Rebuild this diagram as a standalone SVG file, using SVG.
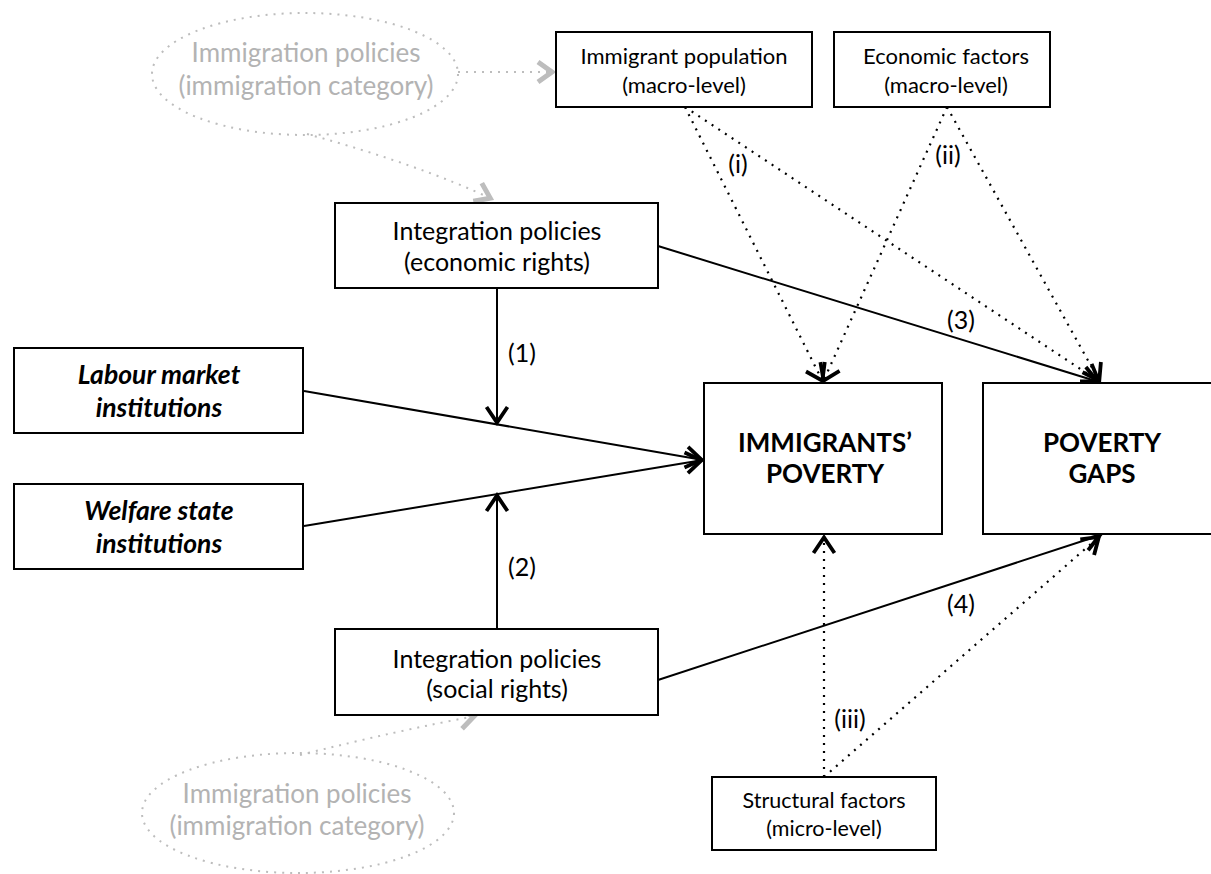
<svg xmlns="http://www.w3.org/2000/svg" width="1211" height="874" viewBox="0 0 1211 874">
<defs>
<style>
.box{fill:#fff;stroke:#000;stroke-width:2}
.t{font-family:Lato,"Liberation Sans",sans-serif;fill:#000;text-anchor:middle}
.big{font-size:25px}
.mid{font-size:22px}
.sm{font-size:21.5px}
.bi{font-size:26.5px;font-weight:bold;font-style:italic}
.bold{font-size:26px;font-weight:bold}
.lab{font-size:25px}
.g{fill:#b3b3b3;font-size:26px}
.solid{fill:none;stroke:#000;stroke-width:2;marker-end:url(#ah)}
.dot{fill:none;stroke:#000;stroke-width:2.2;stroke-dasharray:2 6;marker-end:url(#ah)}
.gdot{fill:none;stroke:#bdbdbd;stroke-width:2;stroke-dasharray:2 6}
.garr{fill:none;stroke:#bdbdbd;stroke-width:2;stroke-dasharray:2 6;marker-end:url(#gah)}
</style>
<marker id="ah" markerUnits="userSpaceOnUse" markerWidth="30" markerHeight="30" viewBox="-22 -15 26 30" refX="0" refY="0" orient="auto">
<path d="M -17 -10.5 L -1.5 0 L -17 10.5" fill="none" stroke="#000" stroke-width="3.8"/>
</marker>
<marker id="gah" markerUnits="userSpaceOnUse" markerWidth="30" markerHeight="30" viewBox="-22 -15 26 30" refX="0" refY="0" orient="auto">
<path d="M -16 -10 L -2 0 L -16 10" fill="none" stroke="#bdbdbd" stroke-width="5"/>
</marker>
</defs>
<rect width="1211" height="874" fill="#fff"/>

<g id="connectors">
<path class="garr" d="M 458 72 L 554 72"/>
<path class="garr" d="M 307 134 Q 420 165 492 199"/>
<path class="garr" d="M 300 755 Q 400 730 476 716"/>
<path class="solid" d="M 304 391 L 703 460"/>
<path class="solid" d="M 304 526 L 703 460"/>
<path class="solid" d="M 497 288 L 497 424"/>
<path class="solid" d="M 497 629 L 497 494"/>
<path class="solid" d="M 658 246 L 1099 382"/>
<path class="solid" d="M 658 680 L 1101 535"/>
<path class="dot" d="M 685 107 L 823 382"/>
<path class="dot" d="M 685 107 L 1100 382"/>
<path class="dot" d="M 947 107 L 823 382"/>
<path class="dot" d="M 947 107 L 1100 382"/>
<path class="dot" d="M 824 777 L 824 536"/>
<path class="dot" d="M 824 777 L 1100 536"/>
<text class="t lab" x="522" y="362">(1)</text>
<text class="t lab" x="522" y="576">(2)</text>
<text class="t lab" x="961" y="329">(3)</text>
<text class="t lab" x="961" y="613">(4)</text>
<text class="t lab" x="738" y="173">(i)</text>
<text class="t lab" x="948" y="164">(ii)</text>
<text class="t lab" x="850" y="728">(iii)</text>
</g>

<g id="immig-top">
<ellipse class="gdot" cx="305" cy="74" rx="153" ry="61"/>
<text class="t g" x="306" y="62">Immigration policies</text>
<text class="t g" x="306" y="95">(immigration category)</text>
</g>

<g id="immig-bottom">
<ellipse class="gdot" cx="298" cy="813" rx="156" ry="60"/>
<text class="t g" x="297" y="803">Immigration policies</text>
<text class="t g" x="297" y="835">(immigration category)</text>
</g>

<g id="immigrant-population">
<rect class="box" x="556" y="32" width="256" height="75"/>
<text class="t mid" x="684" y="64">Immigrant population</text>
<text class="t mid" x="684" y="93">(macro-level)</text>
</g>

<g id="economic-factors">
<rect class="box" x="834" y="32" width="216" height="75"/>
<text class="t mid" x="946" y="64">Economic factors</text>
<text class="t mid" x="946" y="93">(macro-level)</text>
</g>

<g id="integration-economic">
<rect class="box" x="335" y="203" width="323" height="85"/>
<text class="t big" x="497" y="240">Integration policies</text>
<text class="t big" x="497" y="271">(economic rights)</text>
</g>

<g id="labour">
<rect class="box" x="14" y="348" width="289" height="85"/>
<text class="t bi" x="159" y="384">Labour market</text>
<text class="t bi" x="159" y="417">institutions</text>
</g>

<g id="welfare">
<rect class="box" x="14" y="484" width="289" height="85"/>
<text class="t bi" x="159" y="520">Welfare state</text>
<text class="t bi" x="159" y="553">institutions</text>
</g>

<g id="immigrants-poverty">
<rect class="box" x="704" y="383" width="238" height="151"/>
<text class="t bold" x="825" y="452">IMMIGRANTS’</text>
<text class="t bold" x="825" y="483">POVERTY</text>
</g>

<g id="poverty-gaps">
<rect class="box" x="983" y="383" width="240" height="151"/>
<text class="t bold" x="1102" y="452">POVERTY</text>
<text class="t bold" x="1102" y="483">GAPS</text>
</g>

<g id="integration-social">
<rect class="box" x="335" y="629" width="323" height="86"/>
<text class="t big" x="497" y="668">Integration policies</text>
<text class="t big" x="497" y="698">(social rights)</text>
</g>

<g id="structural">
<rect class="box" x="712" y="777" width="224" height="73"/>
<text class="t sm" x="824" y="808">Structural factors</text>
<text class="t sm" x="824" y="836">(micro-level)</text>
</g>
</svg>
